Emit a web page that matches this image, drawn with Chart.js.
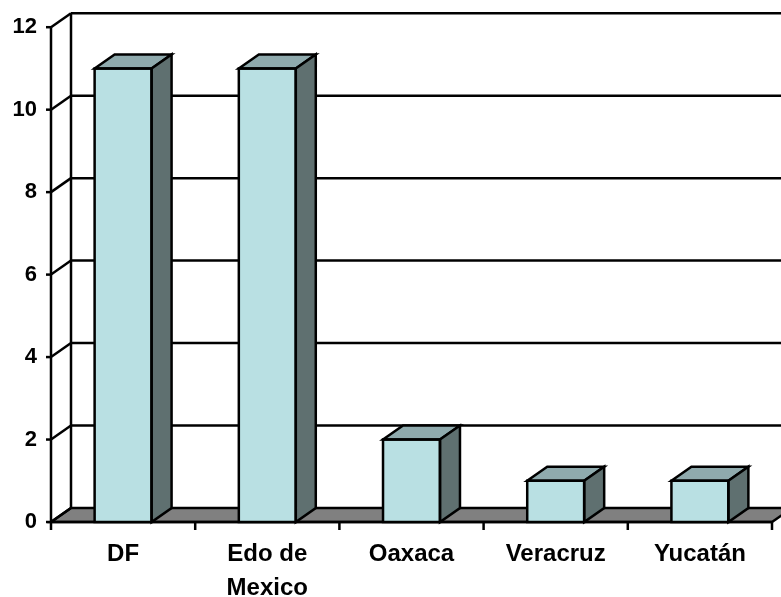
<!DOCTYPE html>
<html>
<head>
<meta charset="utf-8">
<script src="https://cdn.jsdelivr.net/npm/chart.js@4/dist/chart.umd.min.js"></script>
<style>
html,body{margin:0;padding:0;background:#fff;}
#wrap{width:781px;height:597px;}
</style>
</head>
<body>
<div id="wrap"><canvas id="c" width="781" height="597"></canvas></div>
<script>
const categories = ['DF', ['Edo de', 'Mexico'], 'Oaxaca', 'Veracruz', 'Yucatán'];
const values = [11, 11, 2, 1, 1];
const yTickValues = [0, 2, 4, 6, 8, 10, 12];

const DX = 20, DY = -14;
const FRONT = '#B9E0E3', SIDE = '#5F7070', TOP = '#8FAAAD', FLOOR = '#808080';

function poly(ctx, pts, fill) {
  ctx.beginPath();
  ctx.moveTo(pts[0][0], pts[0][1]);
  for (let i = 1; i < pts.length; i++) ctx.lineTo(pts[i][0], pts[i][1]);
  ctx.closePath();
  if (fill) { ctx.fillStyle = fill; ctx.fill(); }
  ctx.stroke();
}
function line(ctx, x1, y1, x2, y2) {
  ctx.beginPath(); ctx.moveTo(x1, y1); ctx.lineTo(x2, y2); ctx.stroke();
}

const box3d = {
  id: 'box3d',
  beforeDatasetsDraw(chart) {
    const ctx = chart.ctx, xs = chart.scales.x, ys = chart.scales.y;
    const L = xs.left, R = xs.right;
    const T = ys.getPixelForValue(yTickValues[yTickValues.length - 1]);
    const B = ys.getPixelForValue(0);
    ctx.save();
    ctx.lineWidth = 2.5;
    ctx.strokeStyle = '#000';
    ctx.lineJoin = 'miter';
    // floor
    poly(ctx, [[L, B], [R, B], [R + DX, B + DY], [L + DX, B + DY]], FLOOR);
    // back wall grid lines and side wall diagonals
    yTickValues.forEach(v => {
      const yy = ys.getPixelForValue(v);
      if (v > 0) line(ctx, L + DX, yy + DY, chart.width + 5, yy + DY);
      line(ctx, L - 5, yy, L, yy);
      line(ctx, L, yy, L + DX, yy + DY);
    });
    // back-left vertical edge
    line(ctx, L + DX, T + DY, L + DX, B + DY);
    // front y axis
    line(ctx, L, T, L, B);
    // front x axis
    line(ctx, L, B, R, B);
    for (let i = 0; i <= categories.length; i++) {
      const px = xs.getPixelForValue(i - 0.5);
      line(ctx, px, B, px, B + 8);
    }
    ctx.restore();
  },
  afterDatasetsDraw(chart) {
    const ctx = chart.ctx;
    const meta = chart.getDatasetMeta(0);
    ctx.save();
    ctx.lineWidth = 2.5;
    ctx.strokeStyle = '#000';
    ctx.lineJoin = 'miter';
    meta.data.forEach(el => {
      const p = el.getProps(['x', 'y', 'base', 'width'], true);
      const l = p.x - p.width / 2, r = p.x + p.width / 2, t = p.y, b = p.base;
      poly(ctx, [[l, t], [r, t], [r + DX, t + DY], [l + DX, t + DY]], TOP);
      poly(ctx, [[r, t], [r + DX, t + DY], [r + DX, b + DY], [r, b]], SIDE);
      poly(ctx, [[l, t], [r, t], [r, b], [l, b]], null);
    });
    ctx.restore();
  }
};

new Chart(document.getElementById('c'), {
  type: 'bar',
  data: {
    labels: categories,
    datasets: [{
      data: values,
      backgroundColor: FRONT,
      borderWidth: 0,
      categoryPercentage: 1,
      barPercentage: 0.395
    }]
  },
  options: {
    responsive: false,
    animation: false,
    events: [],
    layout: { padding: { top: 26, right: 9, left: 0, bottom: 0 } },
    plugins: { legend: { display: false }, tooltip: { enabled: false } },
    scales: {
      x: {
        offset: true,
        grid: { display: false, drawTicks: false },
        border: { display: false },
        ticks: {
          color: '#000',
          padding: 15,
          maxRotation: 0,
          autoSkip: false,
          font: { family: "'Liberation Sans', Arial, sans-serif", size: 24, weight: 'bold', lineHeight: 1.42 }
        },
        afterFit(s) { s.height = 75; }
      },
      y: {
        min: 0,
        max: 12,
        afterBuildTicks(s) { s.ticks = yTickValues.map(v => ({ value: v })); },
        grid: { display: false, drawTicks: false },
        border: { display: false },
        ticks: {
          color: '#000',
          padding: 14,
          font: { family: "'Liberation Sans', Arial, sans-serif", size: 22, weight: 'bold' }
        },
        afterFit(s) { s.width = 51; }
      }
    }
  },
  plugins: [box3d]
});
</script>
</body>
</html>
